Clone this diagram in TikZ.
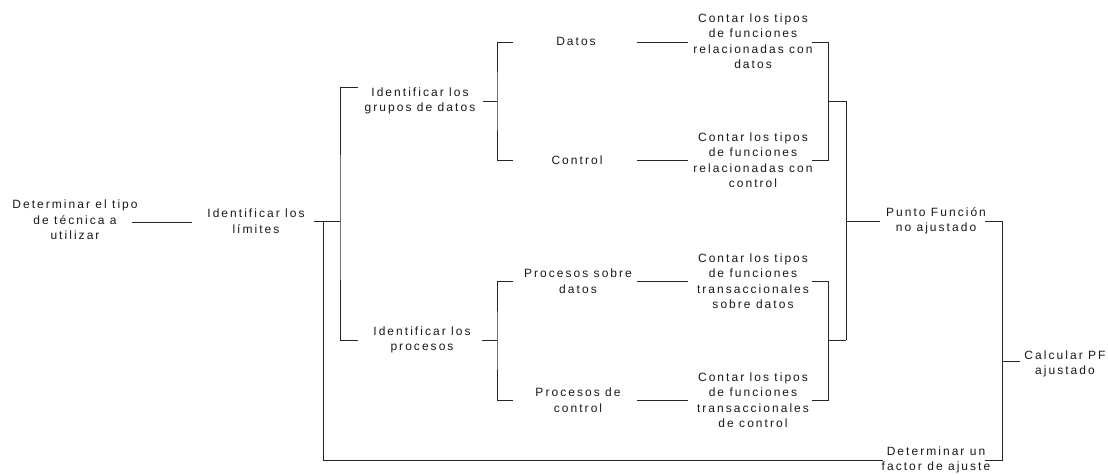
\documentclass[tikz,border=0pt]{standalone}
\usepackage{fontspec}
\setmainfont{Liberation Sans}[LetterSpace=17]
\begin{document}
\begin{tikzpicture}[x=1pt,y=-1pt,
  lbl/.style={align=center,inner sep=0pt,font=\fontsize{12}{15.5}\selectfont,text=black!90},
  ln/.style={draw=black!85,line width=1pt}]
\useasboundingbox (0,0) rectangle (1108,474);
% text nodes
\node[lbl] (A) at (75,220) {Determinar el tipo\\de técnica a\\utilizar};
\node[lbl] (B) at (256,221) {Identificar los\\límites};
\node[lbl] (C) at (420,101) {Identificar los\\grupos de datos};
\node[lbl] (D) at (422,340) {Identificar los\\procesos};
\node[lbl] (E) at (576,41) {Datos};
\node[lbl] (F) at (577,160) {Control};
\node[lbl] (G) at (578,281) {Procesos sobre\\datos};
\node[lbl] (H) at (578,400) {Procesos de\\control};
\node[lbl] (I) at (753,41) {Contar los tipos\\de funciones\\relacionadas con\\datos};
\node[lbl] (J) at (753,160) {Contar los tipos\\de funciones\\relacionadas con\\control};
\node[lbl] (K) at (753,281) {Contar los tipos\\de funciones\\transaccionales\\sobre datos};
\node[lbl] (L) at (753,400) {Contar los tipos\\de funciones\\transaccionales\\de control};
\node[lbl] (M) at (936,221) {Punto Función\\no ajustado};
\node[lbl] (N) at (1065,364) {Calcular PF\\ajustado};
\node[lbl] (O) at (936,460) {Determinar un\\factor de ajuste};
% connector end points
\coordinate (a1) at (132,222); \coordinate (b0) at (192,222);
\coordinate (b1) at (314,221); \coordinate (bj) at (340,221);
\coordinate (c0) at (358,87);  \coordinate (d0) at (358,340);
\coordinate (bk) at (323,221); \coordinate (o0) at (883,460);
\coordinate (c1) at (483,101); \coordinate (cj) at (497,101);
\coordinate (e0) at (513,42);  \coordinate (f0) at (513,160);
\coordinate (d1) at (482,340); \coordinate (dj) at (497,340);
\coordinate (g0) at (513,281); \coordinate (h0) at (513,400);
\coordinate (e1) at (637,42);  \coordinate (i0) at (688,42);
\coordinate (f1) at (637,160); \coordinate (j0) at (688,160);
\coordinate (g1) at (637,281); \coordinate (k0) at (688,281);
\coordinate (h1) at (637,400); \coordinate (l0) at (688,400);
\coordinate (i1) at (812,42);  \coordinate (j1) at (812,160);
\coordinate (k1) at (812,281); \coordinate (l1) at (812,400);
\coordinate (ij) at (828,101); \coordinate (kj) at (828,340);
\coordinate (mj1) at (846,101); \coordinate (mj2) at (846,340);
\coordinate (mj) at (846,221); \coordinate (m0) at (880,221);
\coordinate (m1) at (985,221); \coordinate (o1) at (985,460);
\coordinate (nj) at (1002,361); \coordinate (n0) at (1020,361);
% connectors
\draw[ln] (a1) -- (b0);
\draw[ln] (b1) -- (bj);
\draw[ln] (c0) -| (bj) |- (d0);
\draw[ln] (bk) |- (o0);
\draw[ln] (c1) -- (cj);
\draw[ln] (e0) -| (cj) |- (f0);
\draw[ln] (d1) -- (dj);
\draw[ln] (g0) -| (dj) |- (h0);
\draw[ln] (e1) -- (i0);
\draw[ln] (f1) -- (j0);
\draw[ln] (g1) -- (k0);
\draw[ln] (h1) -- (l0);
\draw[ln] (i1) -| (ij) |- (j1);
\draw[ln] (ij) -- (mj1);
\draw[ln] (k1) -| (kj) |- (l1);
\draw[ln] (kj) -- (mj2);
\draw[ln] (mj1) -- (mj2);
\draw[ln] (mj) -- (m0);
\draw[ln] (m1) -| (nj) |- (o1);
\draw[ln] (nj) -- (n0);
\end{tikzpicture}
\end{document}
